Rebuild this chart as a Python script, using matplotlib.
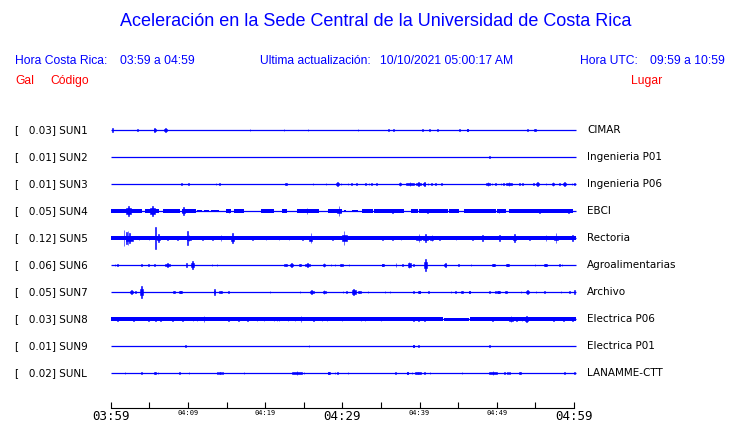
import matplotlib
matplotlib.use("Agg")
import matplotlib.pyplot as plt
from matplotlib.transforms import blended_transform_factory

# estaciones
codes = ["SUN1", "SUN2", "SUN3", "SUN4", "SUN5", "SUN6", "SUN7", "SUN8", "SUN9", "SUNL"]
gal = [0.03, 0.01, 0.01, 0.05, 0.12, 0.06, 0.05, 0.03, 0.01, 0.02]
places = ["CIMAR", "Ingenieria P01", "Ingenieria P06", "EBCI", "Rectoria",
          "Agroalimentarias", "Archivo", "Electrica P06", "Electrica P01", "LANAMME-CTT"]

tick_labels = ["03:59", "04:09", "04:19", "04:29", "04:39", "04:49", "04:59"]
big_labels = ["03:59", "04:29", "04:59"]

# eventos: (minuto desde 03:59, semi-amplitud, duracion en minutos)
sun1 = [(0.22, 1.7, 0), (3.46, 1.0, 0), (5.70, 2.0, 0.26), (7.08, 2.3, 0.43), (18.06, 1.3, 0),
        (22.46, 1.3, 0), (25.57, 0.7, 0), (32.05, 0.7, 0), (35.98, 1.3, 0), (36.59, 1.3, 0),
        (40.35, 1.3, 0), (41.26, 1.3, 0), (42.29, 1.3, 0), (45.14, 1.3, 0), (46.22, 1.3, 0.2),
        (54.00, 1.3, 0), (54.95, 1.3, 0.2)]
sun2 = [(49.03, 1.3, 0)]
sun3 = [(9.16, 1.0, 0), (10.11, 0.7, 0), (13.65, 0.7, 0), (14.08, 1.0, 0), (22.68, 1.3, 0.26),
        (26.22, 0.7, 0), (27.91, 1.3, 0), (29.38, 1.7, 0.43), (29.85, 0.7, 0), (30.76, 0.7, 0),
        (31.19, 1.0, 0), (31.80, 0.7, 0), (33.00, 1.3, 0), (33.44, 1.3, 0), (33.78, 1.3, 0),
        (34.39, 1.3, 0), (37.45, 1.7, 0.35), (38.77, 1.7, 1.08), (39.85, 1.7, 0.65),
        (40.61, 1.7, 0.26), (41.08, 1.3, 0), (41.56, 1.3, 0), (42.03, 0.7, 0), (42.81, 0.7, 0.17),
        (48.86, 1.7, 0.43), (49.38, 0.7, 0), (49.81, 1.3, 0), (50.54, 0.7, 0), (50.85, 1.3, 0),
        (51.58, 1.7, 0.78), (52.92, 1.0, 0), (53.31, 0.7, 0), (54.78, 1.3, 0), (55.25, 1.7, 0.35),
        (56.38, 1.0, 0), (57.28, 1.7, 0.22), (58.10, 1.3, 0), (58.80, 1.7, 0.35), (59.75, 1.3, 0),
        (60.05, 1.3, 0)]
sun4 = [(2.29, 5.3, 0.65), (5.40, 5.3, 0.65), (9.42, 4.0, 0.35), (15.34, 2.0, 0.26),
        (25.45, 2.7, 0.26), (29.59, 4.7, 0.52), (36.50, 2.0, 0.2), (41.00, 2.0, 0.2),
        (50.30, 2.0, 0.2), (55.50, 2.0, 0.2), (59.30, 2.3, 0.3)]
sun5 = [(1.73, 8.0, 0), (2.03, 6.0, 0), (2.24, 7.0, 0), (2.45, 5.0, 0.86), (5.83, 11.0, 0),
        (6.18, 4.0, 0.43), (8.64, 2.3, 0), (9.94, 7.3, 0), (10.15, 3.3, 0.6), (14.26, 2.7, 0.2),
        (15.77, 5.0, 0.35), (25.92, 5.0, 0.35), (30.24, 6.7, 0.65), (39.90, 4.0, 0.6),
        (40.80, 4.0, 0.6), (41.60, 3.3, 0.4), (48.17, 2.7, 0), (50.33, 3.3, 0), (52.27, 4.0, 0.43),
        (56.38, 2.7, 0.43), (57.67, 4.7, 0.43), (59.83, 2.7, 0.65), (3.67, 2.3, 0), (4.97, 2.3, 0),
        (7.34, 2.3, 0), (11.88, 2.3, 0), (13.18, 2.3, 0), (18.36, 2.3, 0), (20.09, 2.3, 0),
        (21.82, 2.3, 0), (23.11, 2.3, 0), (24.84, 2.3, 0), (28.73, 2.3, 0), (35.21, 2.3, 0),
        (36.50, 2.3, 0), (37.58, 2.3, 0), (42.55, 2.3, 0), (44.71, 2.3, 0), (46.87, 2.3, 0),
        (54.22, 2.3, 0)]
sun6 = [(0.56, 1.0, 0), (0.91, 0.7, 0), (3.97, 1.3, 0), (4.88, 1.3, 0), (5.70, 1.3, 0),
        (7.34, 1.7, 0.69), (9.85, 1.7, 0), (10.58, 4.0, 0.35), (13.09, 1.3, 0), (13.74, 1.3, 0),
        (22.68, 1.3, 0.35), (23.41, 1.7, 0.43), (24.54, 1.3, 0.2), (25.49, 1.7, 0.6),
        (27.65, 1.7, 0.26), (28.51, 1.3, 0), (29.07, 1.3, 0), (29.85, 1.3, 0.35), (30.89, 0.7, 0),
        (35.21, 1.3, 0.26), (36.94, 2.3, 0), (37.80, 0.7, 0), (38.66, 3.3, 0.35), (39.23, 1.3, 0),
        (40.74, 6.0, 0.35), (43.33, 2.0, 0.26), (45.06, 1.3, 0), (46.66, 1.3, 0), (49.59, 1.3, 0.35),
        (51.36, 1.3, 0.35), (54.95, 1.3, 0), (56.29, 1.3, 0.35), (58.10, 1.3, 0), (58.45, 1.3, 0)]
sun7 = [(2.72, 2.3, 0.35), (3.24, 0.7, 0), (3.97, 6.0, 0.43), (8.21, 1.3, 0.35), (9.03, 1.3, 0.35),
        (13.44, 2.7, 0.22), (14.26, 1.3, 0.35), (15.25, 0.7, 0), (20.65, 0.7, 0), (24.54, 0.7, 0),
        (26.01, 1.7, 0.52), (27.65, 2.3, 0.35), (30.11, 0.7, 0), (30.54, 0.7, 0), (31.45, 3.3, 0.52),
        (32.18, 1.3, 0.35), (33.35, 0.7, 0), (35.55, 0.7, 0), (36.16, 0.7, 0), (39.18, 0.7, 0),
        (39.96, 1.3, 0.2), (41.17, 1.3, 0), (44.06, 0.7, 0), (44.63, 0.7, 0), (45.49, 1.3, 0.26),
        (46.44, 1.3, 0.2), (49.03, 0.7, 0), (49.81, 1.3, 0), (50.24, 1.3, 0.35), (51.19, 1.3, 0.35),
        (53.14, 0.7, 0), (54.00, 1.7, 0.43), (55.08, 0.7, 0), (56.16, 1.3, 0), (58.32, 1.0, 0),
        (59.40, 1.0, 0), (60.05, 2.3, 0)]
sun8 = [(0.86, 2.3, 0.86), (2.94, 2.3, 0.2), (4.88, 2.0, 0), (5.83, 2.0, 0), (6.48, 2.0, 0),
        (7.99, 2.0, 0), (9.29, 2.3, 1.3), (10.67, 2.3, 0), (11.15, 2.3, 0), (12.10, 2.7, 0.43),
        (15.25, 2.0, 0), (16.55, 2.0, 0), (17.71, 2.3, 0.86), (18.92, 2.0, 0), (19.87, 2.0, 0),
        (21.17, 2.0, 0), (21.51, 2.0, 0), (21.82, 2.0, 0), (22.94, 2.3, 0.73), (23.89, 2.0, 0),
        (24.62, 3.3, 0), (26.27, 2.0, 0), (27.35, 2.0, 0), (28.04, 2.3, 0.35), (29.94, 2.0, 0),
        (32.40, 2.0, 0), (32.96, 2.0, 0), (34.99, 2.0, 0), (39.18, 2.0, 0), (39.83, 2.0, 0),
        (40.61, 2.0, 0), (49.46, 2.0, 0), (51.84, 3.3, 0.43), (52.57, 2.3, 0), (53.27, 2.3, 0),
        (53.87, 3.3, 0.35), (57.37, 2.0, 0), (58.62, 2.0, 0), (59.83, 2.3, 0)]
sun9 = [(9.72, 0.7, 0), (25.70, 0.7, 0), (39.23, 1.3, 0.22), (39.83, 0.7, 0), (49.03, 0.7, 0)]
sunl = [(1.86, 0.7, 0), (4.02, 0.7, 0), (5.75, 1.3, 0.22), (6.13, 1.3, 0), (8.94, 0.7, 0),
        (10.15, 1.3, 0), (13.82, 1.3, 0), (14.17, 1.3, 0.26), (14.47, 1.3, 0), (17.28, 0.7, 0),
        (24.11, 1.7, 1.3), (25.06, 1.3, 0), (28.21, 1.3, 0.26), (29.07, 1.3, 0), (29.38, 0.7, 0),
        (30.76, 0.7, 0), (36.85, 0.7, 0), (38.45, 1.3, 0.22), (39.01, 1.3, 0), (39.79, 1.3, 0.73),
        (40.61, 0.7, 0), (41.34, 1.3, 0), (45.49, 0.7, 0), (49.51, 1.7, 0.95), (50.97, 0.7, 0),
        (51.41, 1.3, 0), (51.62, 1.3, 0), (53.01, 1.3, 0.26), (58.75, 1.3, 0), (60.05, 1.3, 0)]
events = [sun1, sun2, sun3, sun4, sun5, sun6, sun7, sun8, sun9, sunl]

# ruido de fondo continuo: (inicio, fin, semi-amplitud)
sun4_band = [(0.0, 4.10, 1.6), (4.45, 6.26, 1.6), (6.78, 8.94, 1.6), (9.20, 11.0, 1.6),
             (11.23, 11.88, 1.2), (12.10, 12.74, 1.2), (12.96, 14.04, 1.2), (14.90, 15.55, 1.6),
             (15.98, 17.28, 1.6), (19.44, 21.17, 1.6), (22.16, 22.81, 1.6), (24.10, 27.0, 1.6),
             (28.20, 30.0, 1.6), (30.24, 30.46, 1.2), (31.24, 31.97, 1.2), (32.53, 33.91, 1.6),
             (34.13, 38.02, 1.6), (38.88, 39.74, 1.6), (39.87, 43.63, 1.6), (43.85, 45.14, 1.6),
             (45.79, 49.90, 1.6), (49.98, 51.19, 1.6), (51.62, 59.83, 1.6)]
sun5_band = [(0.0, 60.26, 2.0)]
sun8_band = [(0.0, 42.98, 1.8), (43.20, 46.44, 1.5), (46.57, 60.26, 1.8)]
bands = {3: sun4_band, 4: sun5_band, 7: sun8_band}

W, H = 740, 423
BLUE = "#0000ff"
amp_scale = 1 / 27.0   # una separacion entre trazas = 27 unidades
spike_w = 0.07

fig = plt.figure(figsize=(W / 100, H / 100), dpi=100)
ax = fig.add_axes([110.7 / W, (H - 408) / H, (574 - 110.7) / W, (408 - 116.5) / H])
ax.set_xlim(0, 60)
ax.set_ylim(10.296, -0.5)
for s in ["top", "left", "right"]:
    ax.spines[s].set_visible(False)
ax.spines["bottom"].set_linewidth(0.8)
ax.set_yticks([])

for i in range(len(codes)):
    ax.hlines(i, 0, 60.26, color=BLUE, lw=0.9, clip_on=False)
    if i in bands:
        for (a, b, h) in bands[i]:
            ax.broken_barh([(a, b - a)], (i - h * amp_scale, 2 * h * amp_scale),
                           facecolor=BLUE, edgecolor="none", clip_on=False)
    # cuerpo de cada rafaga (mitad de la amplitud) y pico central (amplitud completa)
    wide = [e for e in events[i] if e[2] > 0]
    if wide:
        ax.bar([e[0] for e in wide], [e[1] * amp_scale for e in wide],
               width=[e[2] for e in wide],
               bottom=[i - 0.5 * e[1] * amp_scale for e in wide],
               color=BLUE, edgecolor=BLUE, lw=0.4, clip_on=False)
    ax.bar([e[0] for e in events[i]], [2 * e[1] * amp_scale for e in events[i]],
           width=spike_w, bottom=[i - e[1] * amp_scale for e in events[i]],
           color=BLUE, edgecolor=BLUE, lw=0.4, clip_on=False)

# eje de tiempo
ax.set_xticks(range(0, 61, 5))
lbls = []
for k in range(13):
    lbls.append(tick_labels[k // 2] if k % 2 == 0 else "")
ax.set_xticklabels(lbls)
ax.tick_params(axis="x", direction="in", length=4.5, width=0.8, pad=1.5)
for tl in ax.get_xticklabels():
    tl.set_family("DejaVu Sans Mono")
    tl.set_fontsize(9 if tl.get_text() in big_labels else 5)

# etiquetas de las trazas
tr = blended_transform_factory(fig.transFigure, ax.transData)
for i in range(len(codes)):
    ax.text(15 / W, i, "[   %.2f] %s" % (gal[i], codes[i]), transform=tr,
            fontsize=7.5, family="DejaVu Sans", va="center", ha="left")
    ax.text(587 / W, i, places[i], transform=tr,
            fontsize=7.5, family="DejaVu Sans", va="center", ha="left")

# encabezado
def ftext(x, y, s, **kw):
    fig.text(x / W, 1 - y / H, s, family="Liberation Sans", va="center", **kw)

ftext(376, 22, "Aceleración en la Sede Central de la Universidad de Costa Rica",
      ha="center", fontsize=13, color=BLUE)
ftext(15, 61, "Hora Costa Rica:", fontsize=8.7, color=BLUE)
ftext(120, 61, "03:59 a 04:59", fontsize=8.7, color=BLUE)
ftext(260, 61, "Ultima actualización:", fontsize=8.7, color=BLUE)
ftext(380, 61, "10/10/2021 05:00:17 AM", fontsize=8.7, color=BLUE)
ftext(580, 61, "Hora UTC:", fontsize=8.7, color=BLUE)
ftext(725, 61, "09:59 a 10:59", fontsize=8.7, color=BLUE, ha="right")
ftext(15, 81, "Gal", fontsize=8.7, color="red")
ftext(50, 81, "Código", fontsize=8.7, color="red")
ftext(662, 81, "Lugar", fontsize=8.7, color="red", ha="right")

fig.savefig("out.png", dpi=100)
